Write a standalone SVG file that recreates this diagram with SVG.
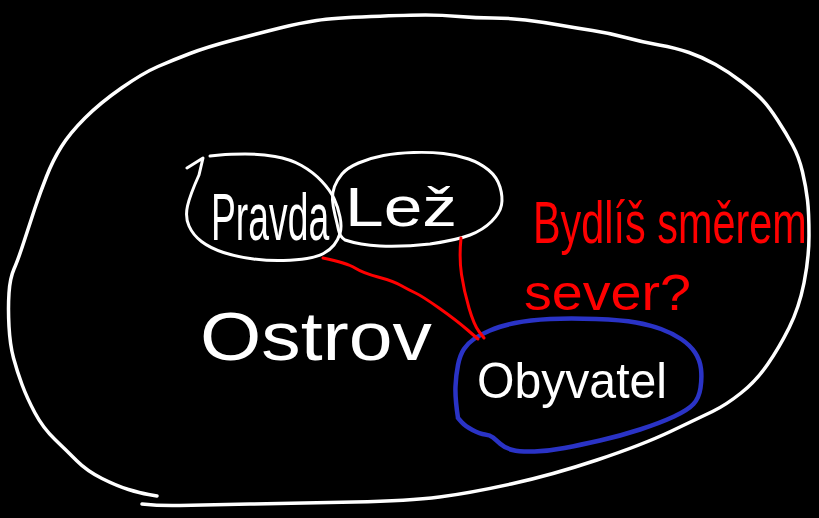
<svg xmlns="http://www.w3.org/2000/svg" width="819" height="518" viewBox="0 0 819 518">
  <style>
    .ink { fill: none; stroke-linecap: round; stroke-linejoin: round; }
    .white { stroke: #ffffff; }
    .red { stroke: #ff0000; }
    .blue { stroke: #2a33c6; }
    .hand { font-family: "Liberation Sans", sans-serif; }
    .w { fill: #ffffff; }
    .r { fill: #ff0000; }
  </style>
  <rect x="0" y="0" width="819" height="518" fill="#000000"/>

  <!-- island outline -->
  <g id="ostrov">
    <path class="ink white" stroke-width="3.5" d="M142,504 Q160,506 180,505.5 Q200,505 250,504 Q300,503 354.5,502 Q409,501 439.5,497 Q470,493 511,484 Q552,475 597,460 Q642,445 670.5,431.5 Q699,418 712.5,411.5 Q726,405 741,393 Q756,381 767.5,364.5 Q779,348 789,328 Q799,308 804,283 Q809,258 809,235.5 Q809,213 807.5,200 Q806,187 802.5,172 Q799,157 792.5,145 Q786,133 777.5,120 Q769,107 762.5,100 Q756,93 742.5,82.5 Q729,72 715.5,64.5 Q702,57 689,52.5 Q676,48 659,45 Q642,42 625.5,37.5 Q609,33 592.5,30.5 Q576,28 559,25 Q542,22 525.5,20 Q509,18 492.5,18 Q476,18 459,16.5 Q442,15 425.5,15 Q409,15 371,16.5 Q333,18 316.5,20.5 Q300,23 280,28 Q260,33 233.5,40 Q207,47 190,53.5 Q173,60 158,66.5 Q143,73 121.5,88 Q100,103 85,118 Q70,133 61.5,146.5 Q53,160 46.5,176.5 Q40,193 35,208 Q30,223 24,241.5 Q18,260 14,269 Q10,278 9,293 Q8,308 9,326.5 Q10,345 13.5,358 Q17,371 22,384.5 Q27,398 35,413 Q43,428 55,439.5 Q67,451 77,461 Q87,471 102,478.5 Q117,486 128.5,489.5 Q140,493 148.5,494.5 L157,496"/>
    <text class="hand w" x="200" y="360" font-size="68" textLength="232" lengthAdjust="spacingAndGlyphs">Ostrov</text>
  </g>

  <!-- truth -->
  <g id="pravda">
    <path class="ink white" stroke-width="3" d="M187,168 L203,158 L199,175 Q190,195 187.5,206 Q185,217 189,226 Q193,235 201.5,241.5 Q210,248 223.5,252.5 Q237,257 253.5,259 Q270,261 283.5,260.5 Q297,260 307,258.5 Q317,257 323.5,253.5 Q330,250 334,245 Q338,240 340,233.5 Q342,227 340,217 Q338,207 334,198.5 Q330,190 321.5,181 Q313,172 301.5,165.5 Q290,159 275,156.5 Q260,154 245,154 Q230,154 220,155 L210,156"/>
    <text class="hand w" transform="translate(211,240) scale(0.565,1)" x="0" y="0" font-size="66">Pravda</text>
  </g>

  <!-- lie -->
  <g id="lez">
    <path class="ink white" stroke-width="3" d="M345,240 Q360,245 380,246 Q403,247 430,244 Q457,240 470,235 Q483,230 491.5,221.5 Q500,213 501.5,205 Q503,197 500,187 Q497,177 488.5,170 Q480,163 468.5,159 Q457,155 443.5,153.5 Q430,152 413.5,152.5 Q397,153 383.5,155.5 Q370,158 358.5,163 Q347,168 342,174 Q337,180 334.5,186.5 Q332,193 332.5,200 Q333,207 335,215 Q337,223 338.5,230 Q340,237 345,240"/>
    <text class="hand w" x="345" y="226" font-size="56" textLength="112" lengthAdjust="spacingAndGlyphs">Lež</text>
  </g>

  <!-- inhabitant -->
  <g id="obyvatel">
    <path class="ink blue" stroke-width="4.5" d="M458,418 Q455,398 455.5,386.5 Q456,375 458,365 Q460,355 464,349 Q468,343 474,339 Q480,335 490,330.5 Q500,326 515,323 Q530,320 550,319 Q570,318 596,319 Q622,320 636,322.5 Q650,325 661,329 Q672,333 681,339 Q690,345 695,352.5 Q700,360 701,369 Q702,378 700.5,388 Q699,398 693.5,404 Q688,410 674,416.5 Q660,423 640,429.5 Q620,436 600,440.5 Q580,445 564.5,448 Q549,451 534.5,451.5 Q520,452 512.5,450 Q505,448 500.5,444 Q496,440 493,437.5 Q490,435 485,434.5 Q480,434 472.5,430 Q465,426 461.5,422 L458,418"/>
    <text class="hand w" x="477" y="398" font-size="50" textLength="190" lengthAdjust="spacingAndGlyphs">Obyvatel</text>
  </g>

  <!-- question -->
  <g id="otazka">
    <text class="hand r" transform="translate(533,243) scale(0.69,1)" x="0" y="0" font-size="60">Bydlíš směrem</text>
    <text class="hand r" x="524" y="310" font-size="50" textLength="167" lengthAdjust="spacingAndGlyphs">sever?</text>
  </g>

  <!-- connectors -->
  <g id="connectors">
    <path class="ink red" stroke-width="3" d="M323,258 Q347,263 355,268 Q363,273 378,277 Q393,281 401,285.5 Q409,290 415.5,293 Q422,296 439,308 Q456,320 467,329.5 L478,339"/>
    <path class="ink red" stroke-width="3" d="M461,238 Q459,258 461.5,274.5 Q464,291 469,308 Q474,325 479,331.5 L484,338"/>
  </g>
</svg>
